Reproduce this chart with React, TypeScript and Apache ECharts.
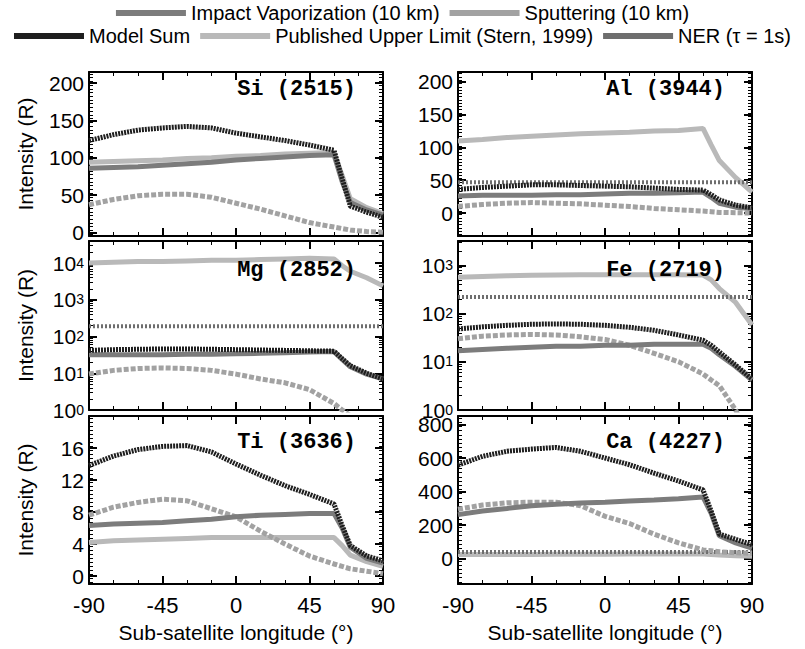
import React, { useEffect, useRef } from 'react';
import * as echarts from 'echarts';

// ---------- data ----------
const longitudes = [-90, -75, -60, -45, -30, -15, 0, 15, 30, 45, 60, 65, 70, 80, 90];
const xTicks = [-90, -45, 0, 45, 90];

const IMP = 'Impact Vaporization (10 km)';
const SPUT = 'Sputtering (10 km)';
const SUM = 'Model Sum';
const PUB = 'Published Upper Limit (Stern, 1999)';
const NER = 'NER (τ = 1s)';

const siSum = [123, 131, 137, 140, 142, 140, 133, 128, 123, 117, 110, 72, 35, 27, 20];
const siImpact = [86, 87, 88, 90, 92, 94, 97, 99, 101, 103, 104, 68, 40, 30, 23];
const siSput = [37, 44, 49, 51, 51, 47, 39, 31, 22, 13, 7, 5, 3, 1, 0];
const siPub = [94, 95, 96, 97, 99, 100, 102, 103, 105, 106, 107, 76, 45, 33, 25];

const alPub = [110, 112, 115, 117, 119, 121, 122, 123, 125, 126, 129, 104, 80, 54, 32];
const alNer = [47, 47, 47, 47, 47, 47, 47, 47, 47, 47, 47, 47, 47, 47, 47];
const alSum = [36, 39, 41, 43, 43, 42, 41, 40, 38, 36, 35, 28, 20, 12, 8];
const alImpact = [26, 27, 27, 27, 28, 28, 29, 30, 30, 31, 32, 24, 15, 9, 7];
const alSput = [10, 13, 15, 16, 15, 14, 12, 10, 7, 5, 3, 2, 1, 0.5, 0];

const mgPub = [10000, 10500, 11000, 11000, 11500, 12000, 12000, 12500, 13000, 13500, 13000, 8500, 6000, 4000, 2400];
const mgNer = [190, 190, 190, 190, 190, 190, 190, 190, 190, 190, 190, 190, 190, 190, 190];
const mgSum = [42, 44, 45, 46, 46, 45, 44, 43, 42, 41, 40, 25, 16, 10, 7];
const mgImpact = [32, 32, 32, 32, 33, 33, 34, 35, 36, 38, 39, 24, 15, 9.5, 7];
const mgSput = [9.5, 12, 13.5, 14, 13.5, 12, 9.5, 7, 5.5, 3.6, 1.5, 1.0, 0.7, 0.3, 0.15];

const fePub = [570, 590, 610, 620, 630, 640, 640, 640, 640, 640, 630, 500, 330, 170, 58];
const feNer = [220, 220, 220, 220, 220, 220, 220, 220, 220, 220, 220, 220, 220, 220, 220];
const feSum = [48, 53, 57, 60, 61, 60, 57, 52, 45, 36, 28, 22, 16, 8.5, 4.4];
const feImpact = [17, 18, 19, 20, 21, 21, 22, 22, 23, 23, 23, 19, 14, 8, 4.2];
const feSput = [30, 34, 36, 37, 36, 33, 29, 22, 15, 10, 5.6, 4.2, 3.2, 1.0, 0.2];

const tiSum = [13.8, 15, 15.8, 16.2, 16.3, 15.5, 14.0, 12.6, 11.3, 10.2, 9.0, 6.3, 3.8, 2.5, 1.9];
const tiImpact = [6.3, 6.5, 6.6, 6.7, 6.9, 7.1, 7.4, 7.6, 7.7, 7.8, 7.8, 6.0, 3.6, 2.2, 1.6];
const tiSput = [7.6, 8.6, 9.2, 9.6, 9.4, 8.4, 7.4, 5.6, 4.0, 2.5, 1.5, 1.2, 0.9, 0.6, 0.3];
const tiPub = [4.2, 4.4, 4.5, 4.6, 4.7, 4.8, 4.8, 4.8, 4.8, 4.8, 4.8, 3.8, 2.6, 1.8, 1.2];

const caSum = [558, 610, 640, 653, 663, 640, 600, 560, 510, 463, 410, 284, 147, 116, 84];
const caImpact = [263, 285, 300, 316, 325, 332, 337, 344, 350, 358, 368, 270, 137, 95, 63];
const caSput = [295, 320, 333, 337, 337, 316, 253, 210, 147, 95, 53, 48, 42, 36, 32];
const caNer = [40, 40, 40, 40, 40, 40, 40, 40, 40, 40, 40, 40, 40, 40, 40];
const caPub = [25, 25, 26, 26, 27, 27, 27, 28, 28, 28, 28, 26, 22, 18, 15];

const siTicks = [0, 50, 100, 150, 200];
const alTicks = [0, 50, 100, 150, 200];
const mgTicks = [1, 10, 100, 1000, 10000];
const feTicks = [1, 10, 100, 1000];
const tiTicks = [0, 4, 8, 12, 16];
const caTicks = [0, 200, 400, 600, 800];

// ---------- styles / layout ----------
const FONT = "'Liberation Sans', Arial, Helvetica, sans-serif";
const STYLES: Record<string, any> = {
  [IMP]: { color: '#7c7c7c', width: 5, type: 'solid' },
  [SPUT]: { color: '#a2a2a2', width: 5, type: [5, 2] },
  [SUM]: { color: '#1e1e1e', width: 5, type: [2, 1] },
  [PUB]: { color: '#b9b9b9', width: 5, type: 'solid' },
  [NER]: { color: '#6e6e6e', width: 4, type: [2, 2] },
};
const Z: Record<string, number> = { [PUB]: 1, [NER]: 2, [SPUT]: 3, [IMP]: 4, [SUM]: 5 };

const ROWS = [
  { top: 72, height: 164, labelY: 89 },
  { top: 241, height: 169, labelY: 270 },
  { top: 416, height: 168, labelY: 442 },
];
const COLS = [{ left: 89, width: 294 }, { left: 458, width: 294 }];

const panels = [
  { label: 'Si (2515)', row: 0, col: 0, log: false, min: -5, max: 215, step: 5, majors: siTicks,
    lines: [[PUB, siPub], [SPUT, siSput], [IMP, siImpact], [SUM, siSum]] },
  { label: 'Al (3944)', row: 0, col: 1, log: false, min: -35, max: 215, step: 5, majors: alTicks,
    lines: [[PUB, alPub], [NER, alNer], [SPUT, alSput], [IMP, alImpact], [SUM, alSum]] },
  { label: 'Mg (2852)', row: 1, col: 0, log: true, min: 1, max: 40000, step: 0, majors: mgTicks,
    lines: [[PUB, mgPub], [NER, mgNer], [SPUT, mgSput], [IMP, mgImpact], [SUM, mgSum]] },
  { label: 'Fe (2719)', row: 1, col: 1, log: true, min: 1, max: 3200, step: 0, majors: feTicks,
    lines: [[PUB, fePub], [NER, feNer], [SPUT, feSput], [IMP, feImpact], [SUM, feSum]] },
  { label: 'Ti (3636)', row: 2, col: 0, log: false, min: -1, max: 20, step: 0.5, majors: tiTicks,
    lines: [[PUB, tiPub], [SPUT, tiSput], [IMP, tiImpact], [SUM, tiSum]] },
  { label: 'Ca (4227)', row: 2, col: 1, log: false, min: -150, max: 850, step: 25, majors: caTicks,
    lines: [[PUB, caPub], [NER, caNer], [SPUT, caSput], [IMP, caImpact], [SUM, caSum]] },
];

function buildOption() {
  const grid: any[] = [];
  const xAxis: any[] = [];
  const yAxis: any[] = [];
  const series: any[] = [];
  const graphic: any[] = [];
  const tickFont = 21;
  const mkLine = () => ({ show: true, onZero: false, lineStyle: { color: '#000', width: 2 } });
  const mkMajor = (custom?: number[]) => {
    const t: any = { show: true, inside: true, length: 8, lineStyle: { color: '#000', width: 2 } };
    if (custom) t.customValues = custom;
    return t;
  };
  const mkMinor = (n: number) => ({ show: true, splitNumber: n, length: 4, lineStyle: { color: '#000', width: 1 } });

  panels.forEach((p, g) => {
    const R = ROWS[p.row];
    const C = COLS[p.col];
    grid.push({ left: C.left, top: R.top, width: C.width, height: R.height });
    const bottomRow = p.row === 2;
    const mkX = (position: string, labels: boolean) => ({
      type: 'value', gridIndex: g, min: -90, max: 90, interval: 45, position,
      splitLine: { show: false }, axisLine: mkLine(),
      axisTick: mkMajor(),
      minorTick: mkMinor(3),
      axisLabel: labels
        ? { show: true, customValues: xTicks, fontSize: 22, color: '#000', fontFamily: FONT, margin: 10 }
        : { show: false },
      name: labels ? 'Sub-satellite longitude (°)' : '',
      nameLocation: 'middle', nameGap: 38,
      nameTextStyle: { fontSize: 21, color: '#000', fontFamily: FONT },
    });
    xAxis.push(mkX('bottom', bottomRow));
    xAxis.push(mkX('top', false));

    const nameOpts = p.col === 0 ? {
      name: 'Intensity (R)', nameLocation: 'middle', nameGap: 53, nameRotate: 90,
      nameTextStyle: { fontSize: 21, color: '#000', fontFamily: FONT },
    } : {};

    const logLabel = {
      show: true, showMaxLabel: false, fontSize: tickFont, lineHeight: 15, color: '#000', fontFamily: FONT, margin: 5,
      formatter: (v: number) => '10{e|' + Math.round(Math.log10(v)) + '}',
      rich: { e: { fontSize: 14, verticalAlign: 'top', lineHeight: 12, fontFamily: FONT, color: '#000' } },
    };
    const linLabel = { show: true, customValues: p.majors, fontSize: tickFont, lineHeight: 15, color: '#000', fontFamily: FONT, margin: 5 };

    const mkY = (position: string, labels: boolean) => {
      const base: any = p.log
        ? { type: 'log', logBase: 10, min: p.min, max: p.max, minorTick: mkMinor(9) }
        : { type: 'value', min: p.min, max: p.max, interval: p.step, minorTick: mkMinor(2) };
      base.gridIndex = g;
      base.position = position;
      base.splitLine = { show: false };
      base.axisLine = mkLine();
      base.axisTick = mkMajor(p.majors);
      base.axisLabel = labels ? (p.log ? logLabel : linLabel) : { show: false };
      if (labels) Object.assign(base, nameOpts);
      return base;
    };
    yAxis.push(mkY('left', true));
    yAxis.push(mkY('right', false));

    p.lines.forEach(([name, vals]: any) => {
      series.push({
        type: 'line', name, xAxisIndex: 2 * g, yAxisIndex: 2 * g,
        data: longitudes.map((x, i) => [x, vals[i]]),
        symbol: 'none', showSymbol: false, clip: true, z: Z[name],
        lineStyle: { ...STYLES[name] }, itemStyle: { color: STYLES[name].color },
      });
    });

    graphic.push({
      type: 'text', x: C.left + C.width - 27, y: R.labelY, z: 100,
      style: {
        text: p.label, fill: '#000', fontSize: 22, fontWeight: 'bold',
        fontFamily: "'Liberation Mono', 'Courier New', monospace", align: 'right', verticalAlign: 'middle',
      },
    });
  });

  const legendText = { fontSize: 20, color: '#000', fontFamily: FONT };
  return {
    animation: false,
    backgroundColor: '#fff',
    legend: [
      { top: 3, left: 'center', padding: 0, data: [IMP, SPUT], icon: 'rect', itemWidth: 70, itemHeight: 6, itemGap: 10,
        textStyle: legendText, selectedMode: false },
      { top: 26, left: 'center', padding: 0, data: [SUM, PUB, NER], icon: 'rect', itemWidth: 70, itemHeight: 6, itemGap: 10,
        textStyle: legendText, selectedMode: false },
    ],
    grid, xAxis, yAxis, series, graphic,
  };
}

export default function App() {
  const ref = useRef<HTMLDivElement>(null);
  useEffect(() => {
    if (!ref.current) return;
    const chart = echarts.init(ref.current, undefined, { renderer: 'svg' });
    chart.setOption(buildOption() as any);
    return () => chart.dispose();
  }, []);
  return (
    <div
      ref={ref}
      style={{ position: 'absolute', left: 0, top: 0, width: 805, height: 649, background: '#fff' }}
    />
  );
}
